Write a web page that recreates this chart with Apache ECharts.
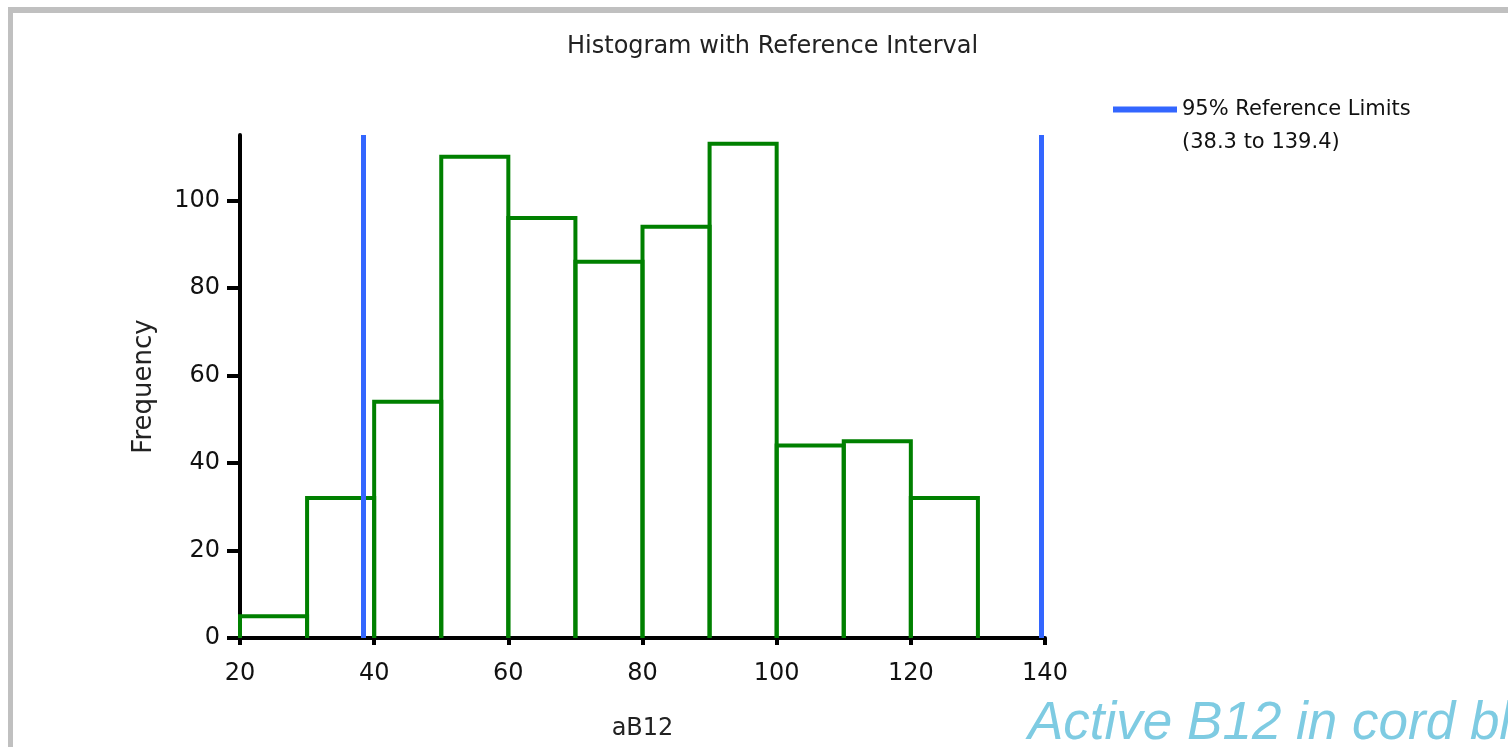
<!DOCTYPE html>
<html>
<head>
<meta charset="utf-8">
<script src="https://cdn.jsdelivr.net/npm/echarts@6/dist/echarts.min.js"></script>
<style>
  html, body { margin: 0; padding: 0; background: #fff; }
  #chart { width: 1508px; height: 747px; }
</style>
</head>
<body>
<div id="chart"></div>
<script>
// ---- data ----
const binStarts = [20, 30, 40, 50, 60, 70, 80, 90, 100, 110, 120];
const binWidth = 10;
const frequencies = [5, 32, 54, 110, 96, 86, 94, 113, 44, 45, 32];
const refLimits = [38.3, 139.4];
const xTicks = [20, 40, 60, 80, 100, 120, 140];
const yTicks = [0, 20, 40, 60, 80, 100];

const titleText = 'Histogram with Reference Interval';
const xName = 'aB12';
const yName = 'Frequency';
const refName = '95% Reference Limits';
const watermark = 'Active B12 in cord blood';

const histData = binStarts.map((s, i) => [s, s + binWidth, frequencies[i]]);
const FONT = '"DejaVu Sans", sans-serif';

const chart = echarts.init(document.getElementById('chart'), null, { renderer: 'canvas' });
chart.setOption({
  animation: false,
  backgroundColor: '#ffffff',
  title: {
    text: titleText,
    left: 562,
    top: 30,
    textStyle: { fontFamily: FONT, fontSize: 24, fontWeight: 'normal', color: '#222' }
  },
  legend: {
    left: 1113,
    top: 60,
    padding: 0,
    icon: 'rect',
    itemWidth: 64,
    itemHeight: 6,
    data: [refName],
    formatter: function (name) {
      return '\n' + name + '\n(' + refLimits[0] + ' to ' + refLimits[1] + ')';
    },
    textStyle: { fontFamily: FONT, fontSize: 21, lineHeight: 33, color: '#111' },
    selectedMode: false
  },
  grid: { left: 240, right: 463, top: 135, bottom: 109, containLabel: false },
  xAxis: {
    type: 'value',
    min: 20,
    max: 140,
    interval: 20,
    name: xName,
    nameLocation: 'middle',
    nameGap: 79,
    nameTextStyle: { fontFamily: FONT, fontSize: 24, color: '#222' },
    axisLine: { show: true, lineStyle: { color: '#000', width: 4 } },
    axisTick: { show: true, length: 7, lineStyle: { color: '#000', width: 4 }, customValues: xTicks },
    axisLabel: { margin: 24, fontFamily: FONT, fontSize: 24, color: '#111', customValues: xTicks },
    splitLine: { show: false }
  },
  yAxis: {
    type: 'value',
    min: 0,
    max: 115,
    name: yName,
    nameLocation: 'middle',
    nameGap: 83,
    nameTextStyle: { fontFamily: FONT, fontSize: 26, color: '#222' },
    axisLine: { show: true, lineStyle: { color: '#000', width: 4 } },
    axisTick: { show: true, length: 13, lineStyle: { color: '#000', width: 4 }, customValues: yTicks },
    axisLabel: { margin: 20, fontFamily: FONT, fontSize: 24, color: '#111', customValues: yTicks },
    splitLine: { show: false }
  },
  series: [
    {
      name: 'Histogram',
      type: 'custom',
      data: histData,
      encode: { x: [0, 1], y: 2 },
      silent: true,
      renderItem: function (params, api) {
        const x0 = api.value(0), x1 = api.value(1), y = api.value(2);
        const pts = [api.coord([x0, 0]), api.coord([x0, y]), api.coord([x1, y]), api.coord([x1, 0])];
        return {
          type: 'polyline',
          shape: { points: pts },
          style: { stroke: '#008000', lineWidth: 4, fill: null, lineJoin: 'miter' }
        };
      }
    },
    {
      name: refName,
      type: 'line',
      data: [],
      color: '#3366ff',
      lineStyle: { color: '#3366ff', width: 5 },
      markLine: {
        silent: true,
        symbol: 'none',
        label: { show: false },
        lineStyle: { color: '#3366ff', width: 5, type: 'solid' },
        data: refLimits.map(v => ({ xAxis: v }))
      }
    }
  ],
  graphic: [
    { type: 'rect', shape: { x: 8, y: 7, width: 1500, height: 6 }, style: { fill: '#c0c0c0' }, silent: true },
    { type: 'rect', shape: { x: 8, y: 7, width: 5, height: 740 }, style: { fill: '#c0c0c0' }, silent: true },
    {
      type: 'text',
      x: 1028,
      y: 724,
      silent: true,
      style: {
        text: watermark,
        font: 'italic 53px "Liberation Sans", Arial, sans-serif',
        fill: '#7ecbe2',
        verticalAlign: 'middle',
        align: 'left'
      }
    }
  ]
});
</script>
</body>
</html>
